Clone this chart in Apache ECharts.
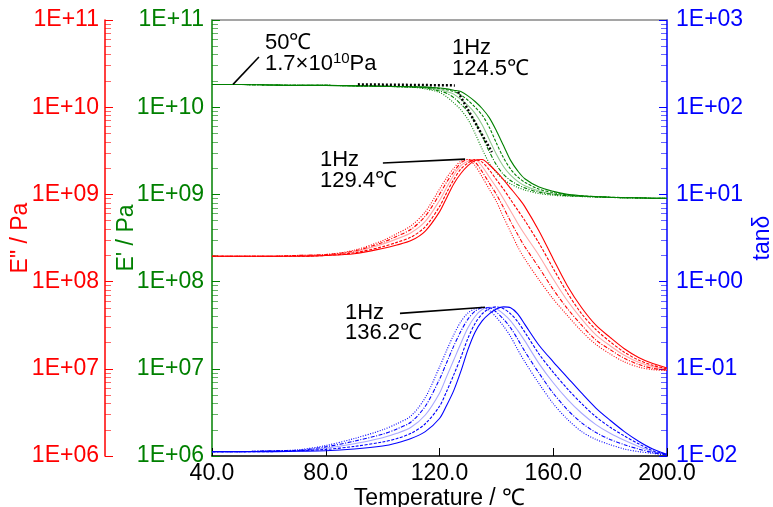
<!DOCTYPE html>
<html>
<head>
<meta charset="utf-8">
<script src="https://cdn.jsdelivr.net/npm/echarts@6/dist/echarts.min.js"></script>
<style>
  html, body { margin: 0; padding: 0; background: #fff; }
  #chart { width: 773px; height: 507px; }
</style>
</head>
<body>
<div id="chart"></div>
<script>
// temperature grid (℃)
const temps = [40, 50, 60, 70, 80, 90, 100, 105, 110, 115, 120, 122.5, 125, 127.5, 130, 132.5, 135, 137.5, 140, 142.5, 145, 147.5, 150, 155, 160, 165, 170, 175, 180, 185, 190, 195, 200];
const freqs = ['1Hz', '2Hz', '5Hz', '10Hz', '20Hz'];

// E' storage modulus, log10(Pa)
const eStor1 = [10.26, 10.26, 10.255, 10.25, 10.25, 10.245, 10.24, 10.235, 10.23, 10.21, 10.17, 10.12, 10.05, 9.97, 9.86, 9.70, 9.52, 9.36, 9.25, 9.17, 9.12, 9.08, 9.05, 9.01, 8.99, 8.98, 8.975, 8.97, 8.965, 8.96, 8.96, 8.955, 8.955];
const eStor2 = [10.26, 10.26, 10.255, 10.25, 10.25, 10.245, 10.24, 10.235, 10.23, 10.22, 10.185, 10.16, 10.11, 10.035, 9.95, 9.83, 9.67, 9.49, 9.34, 9.23, 9.16, 9.11, 9.075, 9.025, 9.0, 8.985, 8.978, 8.972, 8.966, 8.962, 8.96, 8.956, 8.955];
const eStor3 = [10.26, 10.26, 10.255, 10.25, 10.25, 10.245, 10.24, 10.236, 10.232, 10.225, 10.20, 10.18, 10.15, 10.09, 10.02, 9.93, 9.80, 9.63, 9.46, 9.32, 9.22, 9.15, 9.10, 9.04, 9.005, 8.99, 8.98, 8.973, 8.967, 8.962, 8.96, 8.956, 8.955];
const eStor4 = [10.26, 10.26, 10.255, 10.25, 10.25, 10.245, 10.24, 10.237, 10.234, 10.23, 10.215, 10.20, 10.18, 10.14, 10.08, 10.0, 9.91, 9.77, 9.59, 9.42, 9.29, 9.20, 9.14, 9.06, 9.02, 8.995, 8.983, 8.974, 8.968, 8.963, 8.96, 8.956, 8.955];
const eStor5 = [10.26, 10.26, 10.255, 10.25, 10.25, 10.245, 10.24, 10.238, 10.235, 10.23, 10.22, 10.21, 10.195, 10.18, 10.13, 10.065, 9.985, 9.88, 9.73, 9.56, 9.39, 9.27, 9.18, 9.085, 9.035, 9.0, 8.985, 8.975, 8.968, 8.963, 8.96, 8.956, 8.955];

// E'' loss modulus, log10(Pa)
const eLoss1 = [8.29, 8.29, 8.29, 8.30, 8.31, 8.36, 8.47, 8.55, 8.64, 8.80, 9.06, 9.19, 9.30, 9.38, 9.40, 9.33, 9.20, 9.06, 8.92, 8.74, 8.57, 8.40, 8.26, 8.02, 7.80, 7.61, 7.43, 7.28, 7.17, 7.08, 7.02, 6.99, 6.98];
const eLoss2 = [8.29, 8.29, 8.29, 8.30, 8.31, 8.35, 8.45, 8.52, 8.60, 8.75, 9.00, 9.14, 9.26, 9.36, 9.40, 9.37, 9.26, 9.13, 9.00, 8.85, 8.69, 8.54, 8.40, 8.16, 7.91, 7.69, 7.50, 7.33, 7.22, 7.12, 7.05, 7.005, 6.985];
const eLoss3 = [8.29, 8.29, 8.29, 8.295, 8.305, 8.34, 8.43, 8.49, 8.56, 8.69, 8.93, 9.08, 9.22, 9.33, 9.38, 9.40, 9.32, 9.20, 9.08, 8.95, 8.81, 8.67, 8.54, 8.30, 8.03, 7.78, 7.57, 7.39, 7.265, 7.155, 7.075, 7.025, 6.995];
const eLoss4 = [8.29, 8.29, 8.29, 8.29, 8.30, 8.33, 8.40, 8.45, 8.51, 8.63, 8.86, 9.02, 9.17, 9.29, 9.36, 9.40, 9.37, 9.28, 9.17, 9.06, 8.94, 8.82, 8.70, 8.44, 8.15, 7.87, 7.63, 7.45, 7.31, 7.19, 7.10, 7.04, 7.0];
const eLoss5 = [8.29, 8.29, 8.29, 8.29, 8.30, 8.32, 8.38, 8.42, 8.47, 8.58, 8.80, 8.96, 9.12, 9.24, 9.33, 9.39, 9.40, 9.34, 9.26, 9.17, 9.07, 8.97, 8.86, 8.58, 8.26, 7.95, 7.70, 7.50, 7.36, 7.23, 7.13, 7.06, 7.01];

// tanδ, log10
const tan1 = [-1.95, -1.95, -1.94, -1.93, -1.88, -1.80, -1.70, -1.63, -1.54, -1.33, -0.98, -0.79, -0.61, -0.46, -0.36, -0.31, -0.295, -0.33, -0.41, -0.51, -0.63, -0.78, -0.92, -1.17, -1.40, -1.58, -1.72, -1.81, -1.87, -1.92, -1.95, -1.97, -1.99];
const tan2 = [-1.95, -1.95, -1.94, -1.935, -1.895, -1.83, -1.75, -1.69, -1.61, -1.43, -1.12, -0.93, -0.74, -0.57, -0.43, -0.34, -0.30, -0.30, -0.35, -0.43, -0.53, -0.66, -0.80, -1.05, -1.28, -1.47, -1.62, -1.73, -1.81, -1.87, -1.92, -1.96, -1.99];
const tan3 = [-1.95, -1.95, -1.945, -1.94, -1.91, -1.86, -1.79, -1.74, -1.67, -1.53, -1.28, -1.09, -0.90, -0.71, -0.53, -0.40, -0.32, -0.295, -0.31, -0.37, -0.45, -0.56, -0.68, -0.94, -1.16, -1.35, -1.51, -1.64, -1.74, -1.82, -1.89, -1.95, -1.985];
const tan4 = [-1.95, -1.95, -1.95, -1.94, -1.925, -1.89, -1.84, -1.80, -1.74, -1.63, -1.43, -1.26, -1.07, -0.87, -0.65, -0.48, -0.37, -0.31, -0.29, -0.31, -0.37, -0.46, -0.58, -0.83, -1.04, -1.23, -1.40, -1.55, -1.67, -1.77, -1.86, -1.94, -1.98];
const tan5 = [-1.95, -1.95, -1.95, -1.945, -1.94, -1.92, -1.885, -1.85, -1.80, -1.72, -1.57, -1.42, -1.25, -1.03, -0.78, -0.58, -0.45, -0.37, -0.315, -0.29, -0.30, -0.37, -0.49, -0.73, -0.92, -1.10, -1.28, -1.45, -1.59, -1.72, -1.83, -1.92, -1.98];

// annotation guide lines: temps + log10 values
const lead50T = [47.4, 56.5], lead50V = [10.262, 10.576];
const onsetFlatT = [91.3, 125.4], onsetFlatV = [10.262, 10.25];
const onsetSlopeT = [126.5, 138.4], onsetSlopeV = [10.175, 9.485];
const leadLossT = [100.1, 129.0], leadLossV = [9.36, 9.405];
const leadTanT = [106.1, 136.0], leadTanV = [-0.364, -0.295];

const FONT = "'Liberation Sans', Arial, sans-serif";
const RED = '#ff0000', GREEN = '#008000', BLUE = '#0000ff';
const LIGHT = { [RED]: '#ffa8a8', [GREEN]: '#8fc98f', [BLUE]: '#a8a8ff' };
// 1Hz dotted ... 20Hz solid
const styles = [
  { type: [1, 1.5], light: false },
  { type: [4, 1.5, 1, 1.5], light: false },
  { type: 'solid', light: true },
  { type: [3, 1.5], light: false },
  { type: 'solid', light: false }
];

function pairs(ts, logs) { return ts.map((t, i) => [t, Math.pow(10, logs[i])]); }

function expLabel(v) {
  const e = Math.round(Math.log10(v));
  return '1E' + (e < 0 ? '-' : '+') + String(Math.abs(e)).padStart(2, '0');
}

const series = [];
function addGroup(arrs, color, yIdx) {
  arrs.forEach((a, i) => {
    const st = styles[i];
    series.push({
      name: freqs[i], type: 'line', yAxisIndex: yIdx, smooth: 0.3, symbol: 'none',
      z: st.light ? 2 : 3,
      lineStyle: { color: st.light ? LIGHT[color] : color, width: 1.1, type: st.type },
      data: pairs(temps, a)
    });
  });
}
addGroup([eStor1, eStor2, eStor3, eStor4, eStor5], GREEN, 0);
addGroup([eLoss1, eLoss2, eLoss3, eLoss4, eLoss5], RED, 1);
addGroup([tan1, tan2, tan3, tan4, tan5], BLUE, 2);

function guide(ts, vs, yIdx, dotted) {
  series.push({
    type: 'line', yAxisIndex: yIdx, symbol: 'none', z: 5, silent: true,
    lineStyle: dotted ? { color: '#000', width: 2.5, type: [2, 2] } : { color: '#000', width: 1.6 },
    data: pairs(ts, vs)
  });
}
guide(lead50T, lead50V, 0, false);
guide(onsetFlatT, onsetFlatV, 0, true);
guide(onsetSlopeT, onsetSlopeV, 0, true);
guide(leadLossT, leadLossV, 1, false);
guide(leadTanT, leadTanV, 2, false);

function yAxis(color, pos, offset, min, max, name, gap, margin) {
  return {
    type: 'log', logBase: 10, position: pos, offset: offset, min: min, max: max,
    name: name, nameLocation: 'middle', nameRotate: 90, nameGap: gap, nameMoveOverlap: false,
    nameTextStyle: { color: color, fontSize: 23, fontFamily: FONT },
    axisLine: { show: true, lineStyle: { color: color, width: 1.5 } },
    axisTick: { show: true, inside: true, length: 8, lineStyle: { color: color } },
    minorTick: { show: true, splitNumber: 9, length: 6, lineStyle: { color: color, opacity: 0.6 } },
    splitLine: { show: false },
    axisLabel: { color: color, fontSize: 23, fontFamily: FONT, margin: margin, formatter: expLabel }
  };
}

const text = (x, y, t) => ({
  type: 'text', x: x, y: y,
  style: { text: t, fill: '#000', font: '22px ' + FONT, verticalAlign: 'middle' }
});

const chart = echarts.init(document.getElementById('chart'), null, { renderer: 'canvas' });
chart.setOption({
  animation: false,
  backgroundColor: '#fff',
  grid: { left: 212, right: 106, top: 20, bottom: 51, containLabel: false, outerBoundsMode: 'none' },
  xAxis: [{
    type: 'value', min: 40, max: 200, interval: 40,
    name: 'Temperature / ℃', nameLocation: 'middle', nameGap: 31, nameMoveOverlap: false,
    nameTextStyle: { color: '#000', fontSize: 23, fontFamily: FONT },
    axisLine: { lineStyle: { color: '#000', width: 1.5 } },
    axisTick: { inside: true, length: 8, lineStyle: { color: '#000' } },
    splitLine: { show: false },
    axisLabel: { color: '#000', fontSize: 23, fontFamily: FONT, margin: 6, formatter: v => v.toFixed(1) }
  }, {
    type: 'value', position: 'top', min: 40, max: 200,
    axisLine: { show: true, lineStyle: { color: '#888', width: 1.5 } },
    axisTick: { show: false }, axisLabel: { show: false }, splitLine: { show: false }
  }],
  yAxis: [
    yAxis(GREEN, 'left', 0, 1e6, 1e11, "E' / Pa", 74, 8),
    yAxis(RED, 'left', 107, 1e6, 1e11, 'E" / Pa', 73, 6),
    yAxis(BLUE, 'right', 0, 0.01, 1000, 'tanδ', 84, 9)
  ],
  graphic: [
    text(265, 43, '50℃'),
    {
      type: 'text', x: 265, y: 64,
      style: {
        text: '{a|1.7×10}{s|10}{a|Pa}', fill: '#000', verticalAlign: 'middle',
        rich: {
          a: { fontSize: 22, fontFamily: FONT, fill: '#000' },
          s: { fontSize: 15, fontFamily: FONT, fill: '#000', padding: [0, 0, 10, 0] }
        }
      }
    },
    text(452, 48, '1Hz'),
    text(452, 69, '124.5℃'),
    text(320, 160, '1Hz'),
    text(320, 181, '129.4℃'),
    text(345, 313, '1Hz'),
    text(345, 333, '136.2℃')
  ],
  series: series
});
</script>
</body>
</html>
